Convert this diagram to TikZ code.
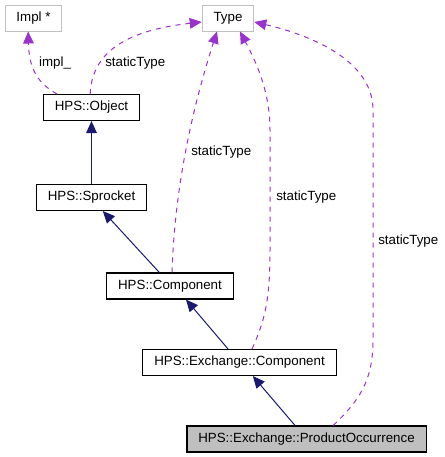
\documentclass[tikz,border=0pt]{standalone}
\usepackage{xcolor}
\usepackage{fontspec}
\setmainfont{Liberation Sans}
\usepackage{tikz}
\usetikzlibrary{arrows.meta}

\definecolor{inhblue}{HTML}{191970}
\definecolor{usepurple}{HTML}{9A32CD}
\definecolor{boxgray}{HTML}{BFBFBF}

\tikzset{
  cls/.style={draw=black, line width=0.8pt, inner xsep=8.5pt, inner ysep=0pt,
    minimum height=19.5pt, font=\fontsize{10pt}{12pt}\selectfont},
  extcls/.style={cls, draw=boxgray, line width=0.75pt},
  focuscls/.style={cls, fill=boxgray},
  inherit/.style={draw=inhblue, line width=0.75pt, -{Triangle[length=9pt,width=8pt]}},
  usage/.style={draw=usepurple, line width=0.75pt, dash pattern=on 3.75pt off 3.75pt,
    -{Triangle[length=9pt,width=8pt]}},
  lbl/.style={font=\fontsize{10pt}{12pt}\selectfont, inner sep=0pt}
}

\begin{document}
\begin{tikzpicture}[x=0.75pt, y=-0.75pt]
\useasboundingbox (0,0) rectangle (444,457);

\node[extcls] (impl) at (33.5,18) {Impl *};
\node[extcls] (type) at (228,18) {Type};
\node[cls] (object) at (91.5,107.5) {HPS::Object};
\node[cls] (sprocket) at (91.5,197.5) {HPS::Sprocket};
\node[cls] (component) at (170,286) {HPS::Component};
\node[cls] (excomp) at (239.5,362.5) {HPS::Exchange::Component};
\node[focuscls] (prodocc) at (306.5,439) {HPS::Exchange::ProductOccurrence};

% inheritance
\draw[inherit] (sprocket.north) -- (object.south);
\draw[inherit] ([xshift=-8pt]component.north) -- ([xshift=8.5pt]sprocket.south);
\draw[inherit] ([xshift=-8.6pt]excomp.north) -- ([xshift=12pt]component.south);
\draw[inherit] ([xshift=-8.6pt]prodocc.north) -- ([xshift=10pt]excomp.south);

% members
\draw[usage] ([xshift=10.5pt]object.north west) .. controls (35,82) and (29,65) .. ([xshift=-4pt]impl.south);
\node[lbl] (lblimpl) at (55,63) {impl\_};

\draw[usage] ([xshift=-1pt]object.north) .. controls (92,50) and (130,30) .. ([yshift=-3pt]type.west);
\node[lbl, anchor=west] (lblobj) at (105,63) {staticType};

\draw[usage] ([xshift=1.5pt]component.north) .. controls (175,180) and (195,100) .. ([xshift=-8.25pt]type.south);
\node[lbl, anchor=west] (lblcomp) at (191,152) {staticType};

\draw[usage] ([xshift=9.4pt]excomp.north) .. controls (265,320) and (270,300) .. (270,250)
  -- (270,130) .. controls (270,90) and (255,60) .. ([xshift=9pt]type.south);
\node[lbl, anchor=west] (lblexcomp) at (276,197) {staticType};

\draw[usage] ([xshift=20pt]prodocc.north) .. controls (360,400) and (373,380) .. (373,340)
  -- (373,110) .. controls (373,60) and (310,35) .. ([yshift=-3pt]type.east);
\node[lbl, anchor=west] (lblprod) at (378,241) {staticType};
\end{tikzpicture}
\end{document}
